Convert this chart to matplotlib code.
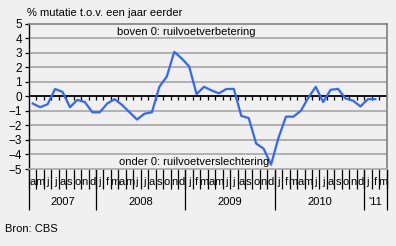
import numpy as np
import matplotlib
matplotlib.use("Agg")
import matplotlib.pyplot as plt

# ruilvoet, % mutatie t.o.v. een jaar eerder, apr 2007 - feb 2011
waarden = [-0.5, -0.75, -0.55, 0.5, 0.3, -0.75, -0.25, -0.4, -1.1,
           -1.1, -0.5, -0.2, -0.6, -1.1, -1.6, -1.2, -1.1, 0.65, 1.35, 3.05, 2.6, 2.05,
           0.15, 0.65, 0.4, 0.2, 0.5, 0.5, -1.35, -1.5, -3.25, -3.6, -4.7, -2.85,
           -1.4, -1.4, -1.0, -0.1, 0.65, -0.4, 0.45, 0.5, -0.15, -0.3, -0.7,
           -0.2, -0.2]
maanden = list("amjjasond") + list("jfmamjjasond") * 3 + list("jfm")
jaren = ["2007", "2008", "2009", "2010", "'11"]
jaar_grenzen = [0, 9, 21, 33, 45, 48]

bg = "#f0f0f0"
plt.rcParams["font.family"] = ["Liberation Sans", "DejaVu Sans"]
plt.rcParams["font.size"] = 8

W, H = 396, 246
fig = plt.figure(figsize=(W / 100, H / 100), dpi=100, facecolor=bg)
x0, x1, ytop, ybot = 29, 386.5, 23.5, 169
ax = fig.add_axes([x0 / W, 1 - ybot / H, (x1 - x0) / W, (ybot - ytop) / H])
ax.set_facecolor(bg)

n = len(maanden)
ax.set_xlim(0, n)
ax.set_ylim(-5, 5)

for y in range(-4, 5):
    if y != 0:
        ax.axhline(y, color="#a6a6a6", lw=1.2, zorder=1)
ax.axhline(0, color="black", lw=1.3, zorder=2)
ax.vlines(np.arange(1, n), -0.28, 0, color="black", lw=0.9, zorder=2)

x = np.arange(len(waarden)) + 0.5
ax.plot(x, waarden, color="#3366ff", lw=1.6, zorder=3)

ax.spines["left"].set_color("black")
ax.spines["left"].set_linewidth(1.0)
for s in ["top", "right"]:
    ax.spines[s].set_color("#808080")
    ax.spines[s].set_linewidth(1.2)
ax.spines["bottom"].set_color("#a6a6a6")
ax.spines["bottom"].set_linewidth(1.2)

ax.set_yticks(range(-5, 6))
ax.tick_params(axis="y", direction="out", length=3, width=0.9, pad=2, labelsize=8.5)
ax.set_xticks([])

# categorie-as onder de grafiek
xt = ax.get_xaxis_transform()
ax.vlines(np.arange(0, n + 1), -0.137, 0, color="black", lw=0.9,
          transform=xt, clip_on=False)
ax.vlines(jaar_grenzen, -0.282, 0, color="black", lw=0.9,
          transform=xt, clip_on=False)
for i, m in enumerate(maanden):
    ax.text(i + 0.5, -0.089, m, transform=xt, ha="center", va="center")
for j, jaar in enumerate(jaren):
    mid = (jaar_grenzen[j] + jaar_grenzen[j + 1]) / 2
    ax.text(mid, -0.23, jaar, transform=xt, ha="center", va="center")

ax.text(11.85, 4.43, "boven 0: ruilvoetverbetering", ha="left", va="center")
ax.text(12.05, -4.52, "onder 0: ruilvoetverslechtering", ha="left", va="center")

fig.text(27 / W, 1 - 13 / H, "% mutatie t.o.v. een jaar eerder", ha="left", va="center")
fig.text(5 / W, 1 - 229 / H, "Bron: CBS", ha="left", va="center")

fig.savefig("out.png", dpi=100, facecolor=bg)
